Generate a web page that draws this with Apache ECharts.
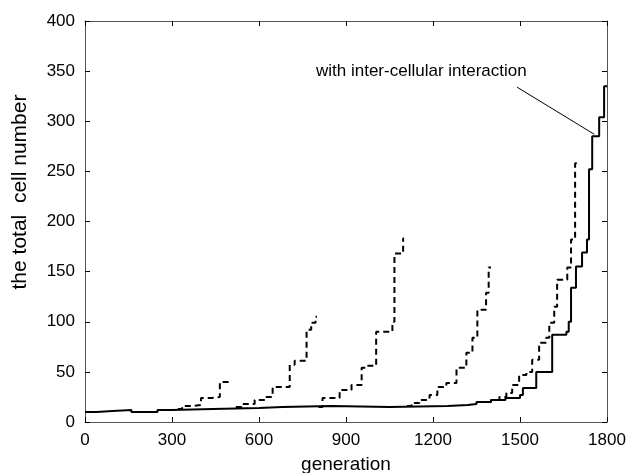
<!DOCTYPE html>
<html>
<head>
<meta charset="utf-8">
<script src="https://cdn.jsdelivr.net/npm/echarts@6/dist/echarts.min.js"></script>
<style>
  html, body { margin: 0; padding: 0; background: #fff; }
  #chart { width: 629px; height: 473px; }
</style>
</head>
<body>
<div id="chart"></div>
<script>
// step curves: [generation, total cell number], value holds until next point
const withInteraction = [
  [0, 10], [40, 11], [95, 12], [160, 10], [250, 12], [300, 13], [440, 14], [600, 15],
  [680, 16], [850, 15], [1050, 16], [1250, 17], [1320, 18], [1350, 20], [1400, 22],
  [1450, 24], [1500, 27], [1510, 34], [1556, 50], [1611, 87], [1660, 90], [1668, 100],
  [1676, 134], [1693, 155], [1714, 169], [1731, 182], [1738, 252], [1749, 285],
  [1773, 304], [1790, 335], [1800, 335]
];
const run1 = [[320, 13], [335, 16], [370, 17], [400, 24], [435, 25], [465, 40], [500, 40]];
const run2 = [[520, 15], [540, 18], [585, 22], [620, 25], [647, 35], [706, 57], [723, 61],
  [764, 92], [780, 99], [795, 105], [800, 105]];
const run3 = [[805, 15], [819, 24], [878, 32], [919, 37], [954, 54], [971, 56], [1004, 90],
  [1060, 100], [1067, 168], [1097, 183], [1100, 183]];
const run4 = [[1110, 16], [1126, 19], [1153, 22], [1188, 27], [1215, 35], [1246, 39],
  [1281, 54], [1315, 69], [1336, 84], [1353, 112], [1383, 129], [1392, 154], [1400, 154]];
const run5 = [[1360, 20], [1400, 22], [1429, 25], [1453, 29], [1473, 37], [1497, 47],
  [1522, 50], [1542, 62], [1566, 79], [1590, 84], [1601, 99], [1618, 115], [1628, 142],
  [1663, 154], [1676, 182], [1690, 258], [1698, 258]];
const dashedRuns = [run1, run2, run3, run4, run5];

const annotationText = 'with inter-cellular interaction';
const annotationLine = [[1490, 334], [1756, 287]];

const font = 'Liberation Sans, Arial, sans-serif';
const axisColor = '#555';

const chart = echarts.init(document.getElementById('chart'));

const baseAxis = {
  axisLine: { show: true, onZero: false, lineStyle: { color: axisColor, width: 1 } },
  axisTick: { show: true, inside: true, length: 5, lineStyle: { color: '#000', width: 1 } },
  splitLine: { show: false }
};

const series = dashedRuns.map((run) => ({
  type: 'line',
  step: 'end',
  data: run,
  symbol: 'none',
  lineStyle: { color: '#000', width: 2, type: [6, 4] },
  z: 2
}));

series.push({
  type: 'line',
  step: 'end',
  data: withInteraction,
  symbol: 'none',
  lineStyle: { color: '#000', width: 2 },
  z: 3,
  markLine: {
    silent: true,
    symbol: ['none', 'none'],
    label: { show: false },
    lineStyle: { color: '#000', width: 1, type: 'solid' },
    data: [[{ coord: annotationLine[0] }, { coord: annotationLine[1] }]]
  }
});

chart.setOption({
  animation: false,
  backgroundColor: '#fff',
  grid: { left: 85, right: 22, top: 21, bottom: 51, containLabel: false, outerBoundsMode: 'none' },
  xAxis: [
    {
      ...baseAxis,
      type: 'value',
      min: 0, max: 1800, interval: 300,
      name: 'generation',
      nameLocation: 'middle',
      nameGap: 33,
      nameTextStyle: { color: '#000', fontSize: 19, fontFamily: font },
      axisLabel: { color: '#000', fontSize: 17, fontFamily: font, margin: 10, formatter: (v) => String(v) }
    },
    {
      ...baseAxis,
      type: 'value',
      position: 'top',
      min: 0, max: 1800, interval: 300,
      axisLabel: { show: false }
    }
  ],
  yAxis: [
    {
      ...baseAxis,
      type: 'value',
      min: 0, max: 400, interval: 50,
      axisLabel: { color: '#000', fontSize: 17, fontFamily: font, margin: 10 }
    },
    {
      ...baseAxis,
      type: 'value',
      position: 'right',
      min: 0, max: 400, interval: 50,
      axisLabel: { show: false }
    }
  ],
  graphic: [
    {
      type: 'text',
      left: 316,
      top: 63,
      style: { text: annotationText, fill: '#000', font: '17px ' + font }
    },
    {
      type: 'text',
      x: 20,
      y: 192,
      rotation: Math.PI / 2,
      style: {
        text: 'the total  cell number',
        fill: '#000',
        font: '21px ' + font,
        textAlign: 'center',
        textVerticalAlign: 'middle'
      }
    }
  ],
  series
});
</script>
</body>
</html>
